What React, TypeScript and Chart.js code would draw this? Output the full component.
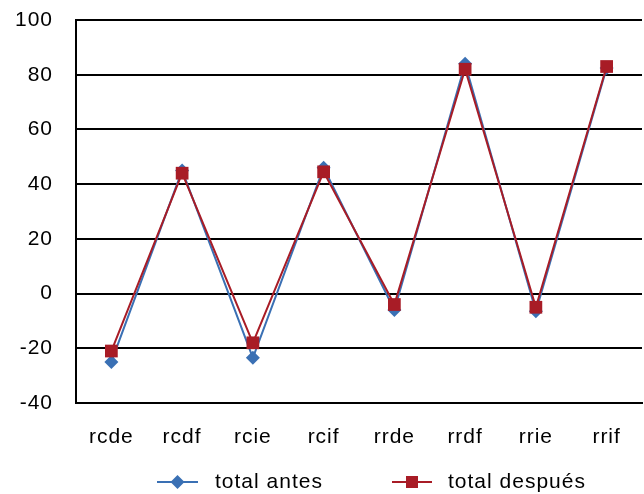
import React, { useEffect, useRef } from "react";
import { Chart, registerables } from "chart.js";

Chart.register(...registerables);

const categories = ["rcde", "rcdf", "rcie", "rcif", "rrde", "rrdf", "rrie", "rrif"];
const totalAntes = [-25, 45, -23.5, 46, -6, 84, -6.5, 82.5];
const totalDespues = [-21, 44, -18, 44.5, -4, 82, -5, 83];
const yTicks = { min: -40, max: 100, step: 20 };
const seriesNames = ["total antes", "total después"];

const BLUE = "#3a70b4";
const RED = "#a81c26";
const FONT = "'Liberation Sans', Arial, Helvetica, sans-serif";
const FS = 21;

const spacingPlugin = {
  id: "spacing",
  beforeDraw(chart: any) {
    (chart.ctx as any).letterSpacing = "1px";
  },
};

const legendPlugin = {
  id: "customLegend",
  afterDraw(chart: any) {
    const ctx = chart.ctx;
    const y = 482;
    const items = [
      { x1: 157, x2: 198, text: seriesNames[0], color: BLUE, style: "diamond", tx: 215 },
      { x1: 392, x2: 432, text: seriesNames[1], color: RED, style: "square", tx: 448 },
    ];
    ctx.save();
    (ctx as any).letterSpacing = "1px";
    for (const it of items) {
      ctx.strokeStyle = it.color;
      ctx.lineWidth = 2;
      ctx.beginPath();
      ctx.moveTo(it.x1, y);
      ctx.lineTo(it.x2, y);
      ctx.stroke();
      const cx = (it.x1 + it.x2) / 2;
      ctx.fillStyle = it.color;
      ctx.beginPath();
      if (it.style === "diamond") {
        ctx.moveTo(cx, y - 7);
        ctx.lineTo(cx + 7, y);
        ctx.lineTo(cx, y + 7);
        ctx.lineTo(cx - 7, y);
        ctx.closePath();
      } else {
        ctx.rect(cx - 6, y - 6, 12, 12);
      }
      ctx.fill();
      ctx.fillStyle = "#000";
      ctx.font = `${FS}px ${FONT}`;
      ctx.textBaseline = "middle";
      ctx.textAlign = "left";
      ctx.fillText(it.text, it.tx, y);
    }
    ctx.restore();
  },
};

export default function App() {
  const ref = useRef<HTMLCanvasElement>(null);
  useEffect(() => {
    document.body.style.margin = "0";
    const chart = new Chart(ref.current!, {
      type: "line",
      data: {
        labels: categories,
        datasets: [
          {
            label: seriesNames[0],
            data: totalAntes,
            borderColor: BLUE,
            backgroundColor: BLUE,
            borderWidth: 2,
            pointStyle: "rectRot",
            pointRadius: 7,
            pointBorderWidth: 0,
            pointBackgroundColor: BLUE,
            tension: 0,
            order: 1,
          },
          {
            label: seriesNames[1],
            data: totalDespues,
            borderColor: RED,
            backgroundColor: RED,
            borderWidth: 2,
            pointStyle: "rect",
            pointRadius: 9,
            pointBorderWidth: 0,
            pointBackgroundColor: RED,
            tension: 0,
            order: 0,
          },
        ],
      },
      options: {
        animation: false,
        responsive: false,
        layout: { autoPadding: false, padding: { top: 20, right: 2, left: 0, bottom: 0 } },
        plugins: { legend: { display: false }, tooltip: { enabled: false } },
        scales: {
          x: {
            offset: true,
            grid: { display: false, drawTicks: false },
            border: { display: true, color: "#000", width: 2 },
            ticks: { color: "#000", font: { family: FONT, size: FS }, padding: 22, maxRotation: 0 },
            afterFit: (axis: any) => {
              axis.height = 91;
              axis.paddingLeft = 0;
              axis.paddingRight = 0;
            },
          },
          y: {
            min: yTicks.min,
            max: yTicks.max,
            grid: { color: "#000", lineWidth: 2, drawTicks: false },
            border: { display: true, color: "#000", width: 2 },
            ticks: { stepSize: yTicks.step, color: "#000", font: { family: FONT, size: FS }, padding: 23 },
            afterFit: (axis: any) => {
              axis.width = 76;
              axis.paddingTop = 0;
              axis.paddingBottom = 0;
            },
          },
        },
      },
      plugins: [spacingPlugin, legendPlugin],
    });
    return () => chart.destroy();
  }, []);
  return <canvas ref={ref} width={644} height={494} style={{ display: "block" }} />;
}
